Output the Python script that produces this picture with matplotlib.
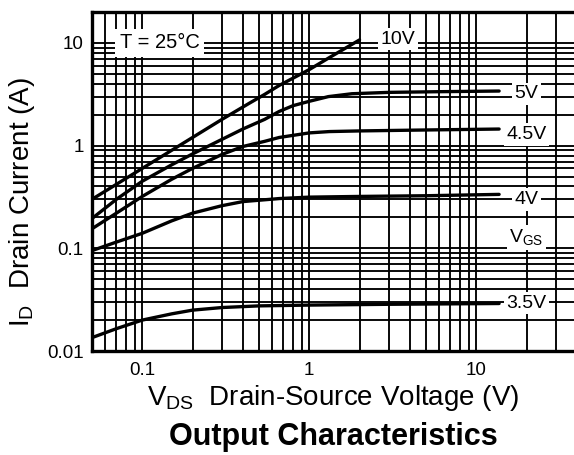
import matplotlib
matplotlib.use("Agg")
import matplotlib.pyplot as plt
from matplotlib.ticker import FixedLocator, NullFormatter, FixedFormatter
import numpy as np

plt.rcParams['font.family'] = ['Liberation Sans', 'DejaVu Sans']
plt.rcParams['mathtext.fontset'] = 'custom'
plt.rcParams['mathtext.rm'] = 'Liberation Sans'
plt.rcParams['mathtext.it'] = 'Liberation Sans'
plt.rcParams['mathtext.bf'] = 'Liberation Sans:bold'

# ---- data ----
v_10 = [0.05, 0.07, 0.1, 0.15, 0.2, 0.3, 0.44, 0.54, 0.66, 1.0, 1.32, 2.0]
i_10 = [0.30, 0.42, 0.60, 0.90, 1.2, 1.8, 2.6, 3.15, 3.85, 5.5, 7.2, 10.7]

v_5 = [0.05, 0.07, 0.1, 0.15, 0.2, 0.3, 0.4, 0.54, 0.66, 0.8, 1.0, 1.3, 1.8, 3.0, 6.0, 13.7]
i_5 = [0.195, 0.30, 0.45, 0.65, 0.83, 1.15, 1.45, 1.8, 2.15, 2.45, 2.7, 3.0, 3.2, 3.3, 3.35, 3.4]

v_45 = [0.05, 0.07, 0.1, 0.15, 0.2, 0.3, 0.4, 0.54, 0.66, 1.0, 1.32, 2.0, 5.0, 13.7]
i_45 = [0.155, 0.22, 0.32, 0.47, 0.60, 0.82, 0.98, 1.1, 1.2, 1.33, 1.37, 1.39, 1.42, 1.45]

v_4 = [0.05, 0.07, 0.1, 0.15, 0.2, 0.3, 0.4, 0.66, 1.0, 2.0, 5.0, 13.7]
i_4 = [0.095, 0.115, 0.14, 0.185, 0.22, 0.26, 0.285, 0.305, 0.315, 0.32, 0.325, 0.335]

v_35 = [0.05, 0.07, 0.1, 0.15, 0.2, 0.3, 0.5, 1.0, 3.0, 13.7]
i_35 = [0.0135, 0.0165, 0.020, 0.023, 0.025, 0.0265, 0.0275, 0.028, 0.0285, 0.029]

x_ticks = [0.1, 1, 10]
x_tick_labels = ["0.1", "1", "10"]
y_ticks = [0.01, 0.1, 1, 10]
y_tick_labels = ["0.01", "0.1", "1", "10"]

curve_labels = ["10V", "5V", "4.5V", "4V", "3.5V"]
label_x = [3.4, 20, 20, 20, 20]
label_y = [10.9, 3.2, 1.28, 0.30, 0.0292]

# ---- figure ----
fig = plt.figure(figsize=(5.74, 4.55), dpi=100)
W, H = 574, 455
left, right, top, bottom = 92, 593, 12, 351
ax = fig.add_axes([left / W, 1 - bottom / H, (right - left) / W, (bottom - top) / H])
ax.set_xscale('log')
ax.set_yscale('log')
ax.set_xlim(0.05, 50)
ax.set_ylim(0.01, 20)

ax.xaxis.set_major_locator(FixedLocator(x_ticks))
ax.xaxis.set_major_formatter(FixedFormatter(x_tick_labels))
ax.yaxis.set_major_locator(FixedLocator(y_ticks))
ax.yaxis.set_major_formatter(FixedFormatter(y_tick_labels))
ax.xaxis.set_minor_locator(matplotlib.ticker.LogLocator(base=10, subs=np.arange(2, 10), numticks=20))
ax.yaxis.set_minor_locator(matplotlib.ticker.LogLocator(base=10, subs=np.arange(2, 10), numticks=20))
ax.xaxis.set_minor_formatter(NullFormatter())
ax.yaxis.set_minor_formatter(NullFormatter())
ax.grid(True, which='both', color='black', linewidth=1.35, zorder=1)
ax.set_axisbelow(True)
ax.tick_params(which='both', length=0)
ax.tick_params(axis='x', pad=8, labelsize=13.5)
ax.tick_params(axis='y', pad=6, labelsize=13.5)

for s in ['left', 'bottom', 'top']:
    ax.spines[s].set_linewidth(2.4)
ax.spines['right'].set_visible(False)

for v, i in [(v_10, i_10), (v_5, i_5), (v_45, i_45), (v_4, i_4), (v_35, i_35)]:
    ax.plot(v, i, color='black', linewidth=2.4, solid_capstyle='round',
            solid_joinstyle='round', zorder=3)

box = dict(facecolor='white', edgecolor='none', pad=2.0)
for lab, lx, ly in zip(curve_labels, label_x, label_y):
    ax.text(lx, ly, lab, ha='center', va='center', fontsize=14, bbox=box, zorder=4)

ax.text(20, 0.128, r'V$_{\mathrm{GS}}$', ha='center', va='center', fontsize=14,
        bbox=box, zorder=4)
ax.text(0.127, 10, 'T = 25°C', ha='center', va='center', fontsize=14.5,
        bbox=dict(facecolor='white', edgecolor='none', pad=3), zorder=4)

fig.text(0.58, 0.125, r'V$_{\mathrm{DS}}$  Drain-Source Voltage (V)', ha='center',
         va='center', fontsize=20)
fig.text(0.038, 0.555, r'I$_{\mathrm{D}}$  Drain Current (A)', ha='center',
         va='center', fontsize=20, rotation=90)
fig.text(0.58, 0.040, 'Output Characteristics', ha='center', va='center',
         fontsize=22, fontweight='bold')

fig.savefig('out.png', dpi=100)
